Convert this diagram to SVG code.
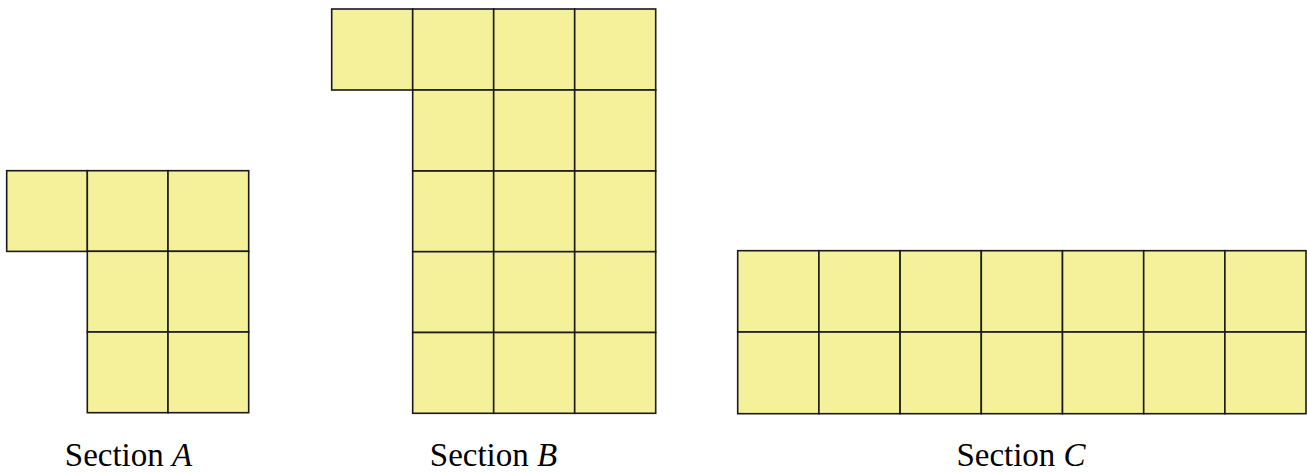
<svg xmlns="http://www.w3.org/2000/svg" width="1307" height="473" viewBox="0 0 1307 473">
<style>
.c{fill:#f5f19a;stroke:#1a1a1a;stroke-width:1.6}
.t{font-family:"Liberation Serif","DejaVu Serif",serif;font-size:33px;fill:#000;text-anchor:middle}
.i{font-style:italic}
</style>
<g id="sectionA">
<rect class="c" x="6.7" y="170.7" width="80.7" height="80.7"/>
<rect class="c" x="87.3" y="170.7" width="80.7" height="80.7"/>
<rect class="c" x="168" y="170.7" width="80.7" height="80.7"/>
<rect class="c" x="87.3" y="251.3" width="80.7" height="80.7"/>
<rect class="c" x="168" y="251.3" width="80.7" height="80.7"/>
<rect class="c" x="87.3" y="332" width="80.7" height="80.7"/>
<rect class="c" x="168" y="332" width="80.7" height="80.7"/>
<text class="t" x="128.5" y="465.5">Section <tspan class="i">A</tspan></text>
</g>
<g id="sectionB">
<rect class="c" x="331.7" y="9" width="81" height="81"/>
<rect class="c" x="412.7" y="9" width="81" height="81"/>
<rect class="c" x="493.7" y="9" width="81" height="81"/>
<rect class="c" x="574.7" y="9" width="81" height="81"/>
<rect class="c" x="412.7" y="90" width="81" height="81"/>
<rect class="c" x="493.7" y="90" width="81" height="81"/>
<rect class="c" x="574.7" y="90" width="81" height="81"/>
<rect class="c" x="412.7" y="171" width="81" height="80.7"/>
<rect class="c" x="493.7" y="171" width="81" height="80.7"/>
<rect class="c" x="574.7" y="171" width="81" height="80.7"/>
<rect class="c" x="412.7" y="251.7" width="81" height="80.8"/>
<rect class="c" x="493.7" y="251.7" width="81" height="80.8"/>
<rect class="c" x="574.7" y="251.7" width="81" height="80.8"/>
<rect class="c" x="412.7" y="332.5" width="81" height="80.8"/>
<rect class="c" x="493.7" y="332.5" width="81" height="80.8"/>
<rect class="c" x="574.7" y="332.5" width="81" height="80.8"/>
<text class="t" x="493.5" y="465.5">Section <tspan class="i">B</tspan></text>
</g>
<g id="sectionC">
<rect class="c" x="737.7" y="250.7" width="81.2" height="81.3"/>
<rect class="c" x="818.9" y="250.7" width="81.2" height="81.3"/>
<rect class="c" x="900.1" y="250.7" width="81.2" height="81.3"/>
<rect class="c" x="981.3" y="250.7" width="81.2" height="81.3"/>
<rect class="c" x="1062.5" y="250.7" width="81.2" height="81.3"/>
<rect class="c" x="1143.7" y="250.7" width="81.2" height="81.3"/>
<rect class="c" x="1224.9" y="250.7" width="81.1" height="81.3"/>
<rect class="c" x="737.7" y="332" width="81.2" height="81.7"/>
<rect class="c" x="818.9" y="332" width="81.2" height="81.7"/>
<rect class="c" x="900.1" y="332" width="81.2" height="81.7"/>
<rect class="c" x="981.3" y="332" width="81.2" height="81.7"/>
<rect class="c" x="1062.5" y="332" width="81.2" height="81.7"/>
<rect class="c" x="1143.7" y="332" width="81.2" height="81.7"/>
<rect class="c" x="1224.9" y="332" width="81.1" height="81.7"/>
<text class="t" x="1021" y="465.5">Section <tspan class="i">C</tspan></text>
</g>
<g id="connectors"/>
</svg>
